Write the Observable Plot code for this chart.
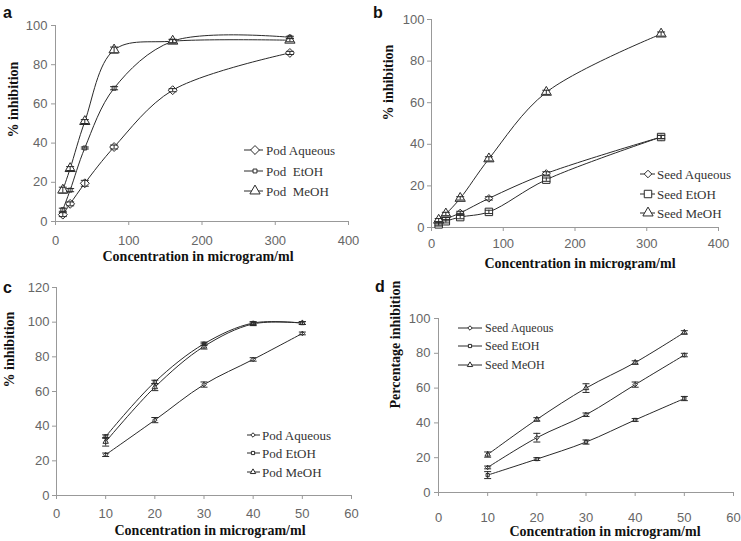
<!DOCTYPE html>
<html><head><meta charset="utf-8">
<script src="https://cdn.jsdelivr.net/npm/d3@7"></script>
<script src="https://cdn.jsdelivr.net/npm/@observablehq/plot@0.6"></script>
<style>
body{margin:0;background:#fff;}
#root{position:relative;width:741px;height:541px;overflow:hidden;background:#fff;}
.panel{position:absolute;}
#overlay{position:absolute;left:0;top:0;pointer-events:none;}
</style></head><body><div id="root"></div>
<script>
// ---------- DATA ----------
const concAB = [10, 20, 40, 80, 160, 320];
const concCD = [10, 20, 30, 40, 50];

// Panel a (Pod extracts)
const podAqueousA = [3.5, 9, 19.5, 38, 67, 86];
const podAqueousAErr = [1, 1, 1.5, 1, 0.8, 0.8];
const podEtOHA = [6, 16, 37.5, 68, 92, 94];
const podEtOHAErr = [0.8, 0.8, 0.5, 0.8, 0.8, 0.5];
const podMeOHA = [16, 27, 51, 87.5, 92, 92.5];
const podMeOHAErr = [1.5, 1, 1, 1.5, 1, 0.8];

// Panel b (Seed extracts)
const seedAqueousB = [2, 4, 7, 14, 26, 43.5];
const seedAqueousBErr = [0.8, 0.8, 0.8, 0.8, 0.8, 0.8];
const seedEtOHB = [1.5, 3, 5, 7.5, 23, 43.5];
const seedEtOHBErr = [0.8, 0.8, 0.8, 0.8, 0.8, 0.8];
const seedMeOHB = [3.5, 6.5, 14, 33, 65, 93];
const seedMeOHBErr = [0.8, 0.8, 0.8, 1, 1, 1];

// Panel c (Pod extracts)
const podAqueousC = [23.5, 43.5, 64, 78.5, 93.5];
const podAqueousCErr = [1, 1.5, 1.5, 1, 0.8];
const podEtOHC = [34, 65.5, 87.5, 99.5, 99.5];
const podEtOHCErr = [1, 1, 1, 0.8, 0.8];
const podMeOHC = [31, 62.5, 86, 99, 99.5];
const podMeOHCErr = [2.5, 2, 1.5, 1, 0.8];

// Panel d (Seed extracts)
const seedAqueousD = [14.4, 31.5, 44.7, 62, 79];
const seedAqueousDErr = [0.8, 2.5, 1, 1.5, 1];
const seedEtOHD = [10, 19.2, 29, 41.7, 54];
const seedEtOHDErr = [2, 0.8, 1.2, 0.8, 1.2];
const seedMeOHD = [21.8, 42, 60, 74.7, 92];
const seedMeOHDErr = [1.5, 1, 2.5, 1, 1];

const ticksAB = [0, 100, 200, 300, 400];
const ticksCD = [0, 10, 20, 30, 40, 50, 60];
const ticks100 = [0, 20, 40, 60, 80, 100];
const ticks120 = [0, 20, 40, 60, 80, 100, 120];

const xTitle = "Concentration in microgram/ml";

// ---------- DRAW ----------
const capSymbol = {draw(ctx, size) { const r = Math.sqrt(size / Math.PI); ctx.moveTo(-r, 0); ctx.lineTo(r, 0); }};
const tickFont = "'Liberation Sans', Arial, sans-serif";
const serif = "'Liberation Serif', 'Times New Roman', serif";
const ink = "#2a2a2a";

const panels = [
  {id: "a", left: 0, top: 0, width: 370, height: 270, m: [25, 22, 49, 55],
   conc: concAB, xDomain: [0, 400], xTicks: ticksAB, yDomain: [0, 100], yTicks: ticks100,
   xPad: 10, yPad: 4, yTitle: "% inhibition", xdx: -4, xdy: 39, ydx: -42, ydy: 14, cap: 4,
   series: [
     {name: "Pod Aqueous", v: podAqueousA, e: podAqueousAErr, symbol: "diamond2", r: 4},
     {name: "Pod  EtOH", v: podEtOHA, e: podEtOHAErr, symbol: "square", r: 2.2},
     {name: "Pod  MeOH", v: podMeOHA, e: podMeOHAErr, symbol: "triangle", r: 3.8}],
   legend: {x0: 244, x1: 263, mx: 255, tx: 266, ys: [150, 171, 191], fs: 13}},
  {id: "b", left: 370, top: 0, width: 371, height: 270, m: [19, 23, 43, 61],
   conc: concAB, xDomain: [0, 400], xTicks: ticksAB, yDomain: [0, 100], yTicks: ticks100,
   xPad: 7, yPad: 3, yTitle: "% inhibition", xdx: 5, xdy: 40, ydx: -43, ydy: -3, cap: 4,
   series: [
     {name: "Seed Aqueous", v: seedAqueousB, e: seedAqueousBErr, symbol: "diamond2", r: 3.4},
     {name: "Seed EtOH", v: seedEtOHB, e: seedEtOHBErr, symbol: "square", r: 4.2},
     {name: "Seed MeOH", v: seedMeOHB, e: seedMeOHBErr, symbol: "triangle", r: 3.8}],
   legend: {x0: 640, x1: 655, mx: 648, tx: 657, ys: [174, 194, 213], fs: 13}},
  {id: "c", left: 0, top: 270, width: 370, height: 271, m: [17, 19, 46, 56],
   conc: concCD, xDomain: [0, 60], xTicks: ticksCD, yDomain: [0, 120], yTicks: ticks120,
   xPad: 9, yPad: 3, yTitle: "% inhibition", xdx: 6, xdy: 39, ydx: -47, ydy: -4, cap: 3.5,
   series: [
     {name: "Pod Aqueous", v: podAqueousC, e: podAqueousCErr, symbol: "diamond2", r: 2},
     {name: "Pod EtOH", v: podEtOHC, e: podEtOHCErr, symbol: "square", r: 1.8},
     {name: "Pod MeOH", v: podMeOHC, e: podMeOHCErr, symbol: "triangle", r: 2}],
   legend: {x0: 247, x1: 260, mx: 253, tx: 262, ys: [435, 453, 472], fs: 13}},
  {id: "d", left: 370, top: 270, width: 371, height: 271, m: [48, 8, 49, 68],
   conc: concCD, xDomain: [0, 60], xTicks: ticksCD, yDomain: [0, 100], yTicks: ticks100,
   xPad: 16, yPad: 4, yTitle: "Percentage inhibition", xdx: 19, xdy: 43, ydx: -43, ydy: 3, cap: 3.5,
   series: [
     {name: "Seed Aqueous", v: seedAqueousD, e: seedAqueousDErr, symbol: "diamond2", r: 2},
     {name: "Seed EtOH", v: seedEtOHD, e: seedEtOHDErr, symbol: "square", r: 1.8},
     {name: "Seed MeOH", v: seedMeOHD, e: seedMeOHDErr, symbol: "triangle", r: 2}],
   legend: {x0: 458, x1: 482, mx: 470, tx: 485, ys: [328, 346, 365], fs: 12}}
];

const root = document.getElementById("root");

for (const p of panels) {
  const data = p.series.map(s => s.v.map((y, i) => ({name: s.name, x: p.conc[i], y, e: s.e[i]})));
  const marks = [
    Plot.ruleX([p.xDomain[0]], {stroke: "#999"}),
    Plot.ruleY([p.yDomain[0]], {stroke: "#999"}),
    Plot.axisX({ticks: p.xTicks, tickSize: 4, tickPadding: p.xPad, stroke: "#999", fill: "#666", label: null, fontSize: 13, fontFamily: tickFont}),
    Plot.axisY({ticks: p.yTicks, tickSize: 4, tickPadding: p.yPad, stroke: "#999", fill: "#666", label: null, fontSize: 13, fontFamily: tickFont}),
    Plot.text([xTitle], {frameAnchor: "bottom", dx: p.xdx, dy: p.xdy, fontWeight: "bold", fontFamily: serif, fontSize: 14, fill: "#111"}),
    Plot.text([p.yTitle], {frameAnchor: "left", rotate: -90, dx: p.ydx, dy: p.ydy, fontWeight: "bold", fontFamily: serif, fontSize: 14, fill: "#111"})
  ];
  data.forEach(d => marks.push(Plot.line(d, {x: "x", y: "y", curve: "catmull-rom", stroke: ink, strokeWidth: 1})));
  data.forEach((d, k) => marks.push(Plot.dot(d, {x: "x", y: "y", symbol: p.series[k].symbol, r: p.series[k].r, fill: "white", stroke: ink, strokeWidth: 1})));
  data.forEach(d => {
    marks.push(Plot.ruleX(d, {x: "x", y1: r => r.y - r.e, y2: r => r.y + r.e, stroke: ink, strokeWidth: 1}));
    marks.push(Plot.dot(d, {x: "x", y: r => r.y + r.e, symbol: capSymbol, r: p.cap, stroke: ink, strokeWidth: 1}));
    marks.push(Plot.dot(d, {x: "x", y: r => r.y - r.e, symbol: capSymbol, r: p.cap, stroke: ink, strokeWidth: 1}));
  });
  const svg = Plot.plot({
    width: p.width, height: p.height,
    marginTop: p.m[0], marginRight: p.m[1], marginBottom: p.m[2], marginLeft: p.m[3],
    x: {domain: p.xDomain, label: null},
    y: {domain: p.yDomain, label: null},
    style: {fontFamily: tickFont, fontSize: "13px", background: "white", overflow: "visible"},
    marks
  });
  svg.classList.add("panel");
  svg.style.left = p.left + "px";
  svg.style.top = p.top + "px";
  root.appendChild(svg);
}

// overlay: panel letters and legends
const ov = d3.select(root).append("svg").attr("id", "overlay").attr("width", 741).attr("height", 541);
const letterPos = {a: [3, 18], b: [373, 18], c: [3, 293], d: [375, 292]};
for (const p of panels) {
  ov.append("text").attr("x", letterPos[p.id][0]).attr("y", letterPos[p.id][1])
    .attr("font-family", tickFont).attr("font-weight", "bold").attr("font-size", 16).attr("fill", "#111").text(p.id);
  const L = p.legend;
  p.series.forEach((s, k) => {
    const y = L.ys[k];
    ov.append("line").attr("x1", L.x0).attr("x2", L.x1).attr("y1", y).attr("y2", y).attr("stroke", ink).attr("stroke-width", 1);
    const typ = {diamond2: d3.symbolDiamond2, square: d3.symbolSquare, triangle: d3.symbolTriangle}[s.symbol];
    ov.append("path").attr("d", d3.symbol(typ, Math.PI * s.r * s.r)()).attr("transform", `translate(${L.mx},${y})`)
      .attr("fill", "white").attr("stroke", ink).attr("stroke-width", 1);
    ov.append("text").attr("x", L.tx).attr("y", y).attr("dy", "0.35em").attr("font-family", serif)
      .attr("font-size", L.fs).attr("fill", "#333").attr("xml:space", "preserve").style("white-space", "pre").text(s.name);
  });
}
</script></body></html>
